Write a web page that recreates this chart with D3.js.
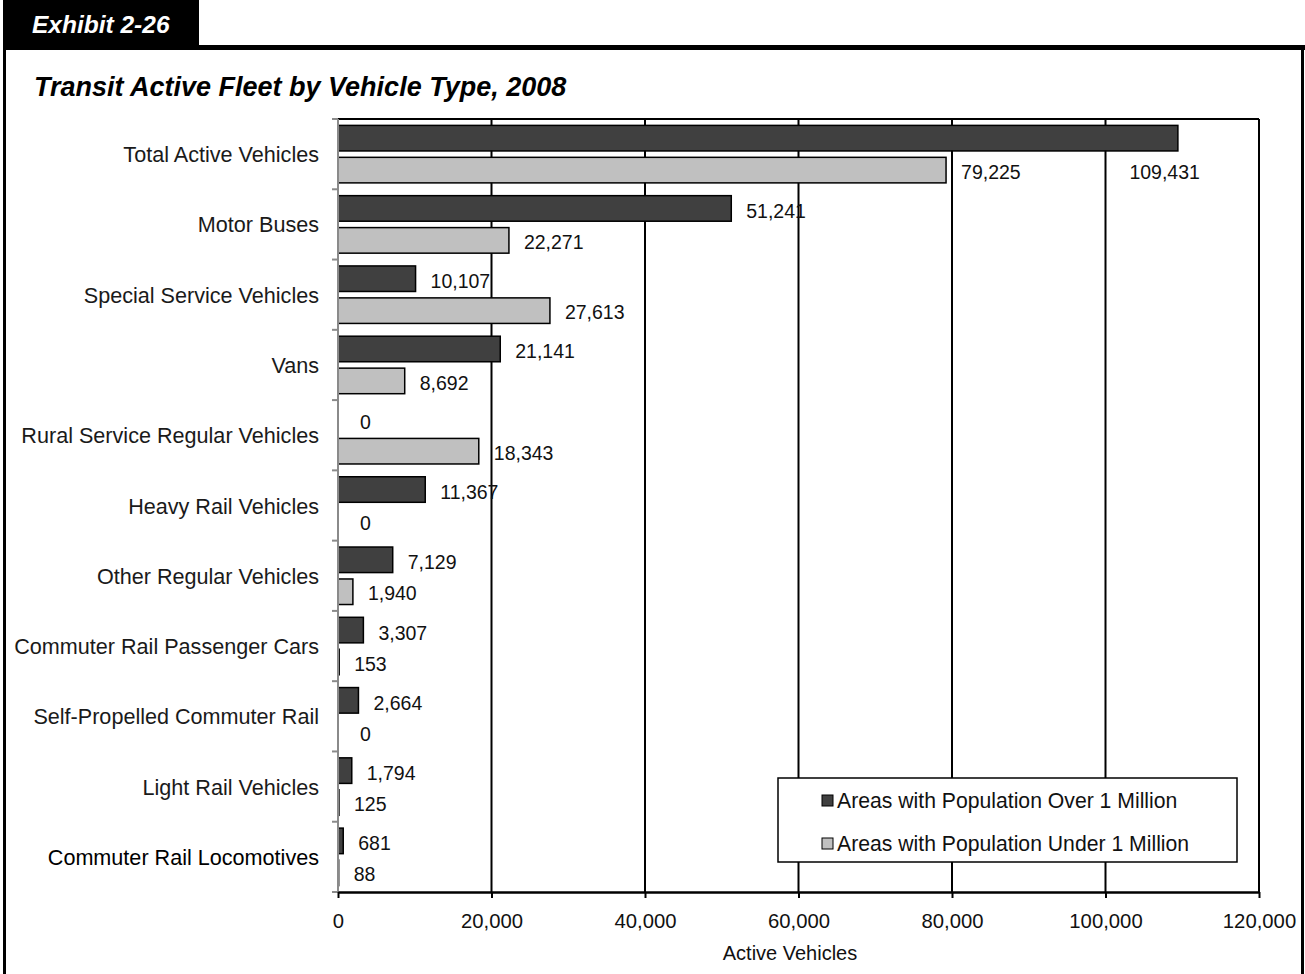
<!DOCTYPE html>
<html>
<head>
<meta charset="utf-8">
<script src="https://cdn.jsdelivr.net/npm/d3@7"></script>
<style>
  html, body { margin: 0; padding: 0; background: #fff; }
  svg { display: block; font-family: "Liberation Sans", Arial, sans-serif; }
</style>
</head>
<body>
<svg id="chart" width="1305" height="974"></svg>
<script>
// Transit active fleet, 2008 — vehicles by type and urbanized-area size
const categories = [
  "Total Active Vehicles",
  "Motor Buses",
  "Special Service Vehicles",
  "Vans",
  "Rural Service Regular Vehicles",
  "Heavy Rail Vehicles",
  "Other Regular Vehicles",
  "Commuter Rail Passenger Cars",
  "Self-Propelled Commuter Rail",
  "Light Rail Vehicles",
  "Commuter Rail Locomotives"
];
const overOneMillion  = [109431, 51241, 10107, 21141, 0, 11367, 7129, 3307, 2664, 1794, 681];
const underOneMillion = [79225, 22271, 27613, 8692, 18343, 0, 1940, 153, 0, 125, 88];
const seriesNames = ["Areas with Population Over 1 Million", "Areas with Population Under 1 Million"];
const xTicks = [0, 20000, 40000, 60000, 80000, 100000, 120000];

const svg = d3.select("#chart");
const W = 1305, H = 974;
const plot = { left: 338, right: 1259, top: 119, bottom: 892 };
const DARK = "#404040", LIGHT = "#c0c0c0";
const fmt = d3.format(",");

// ---- page frame and header tab ----
svg.append("rect").attr("x", 3).attr("y", 0).attr("width", 196).attr("height", 50).attr("fill", "#000");
svg.append("rect").attr("x", 3).attr("y", 45).attr("width", W - 3).attr("height", 5).attr("fill", "#000");
svg.append("rect").attr("x", 3).attr("y", 45).attr("width", 3).attr("height", H - 45).attr("fill", "#000");
svg.append("rect").attr("x", 1301).attr("y", 45).attr("width", 3).attr("height", H - 45).attr("fill", "#000");

svg.append("text").attr("x", 32).attr("y", 33)
  .attr("fill", "#fff").attr("font-size", 24.5).attr("font-weight", "bold").attr("font-style", "italic")
  .text("Exhibit 2-26");
svg.append("text").attr("x", 34).attr("y", 96)
  .attr("fill", "#000").attr("font-size", 27).attr("font-weight", "bold").attr("font-style", "italic")
  .text("Transit Active Fleet by Vehicle Type, 2008");

// ---- scales ----
const x = d3.scaleLinear().domain([0, 120000]).range([plot.left, plot.right]);
const y = d3.scaleBand().domain(categories).range([plot.top, plot.bottom]);
const ySub = d3.scaleBand().domain([0, 1]).range([0, y.bandwidth()]).paddingInner(0.2).paddingOuter(0.2);

// ---- gridlines and frame ----
const g = svg.append("g");
g.selectAll("line.grid").data(xTicks.slice(1)).join("line")
  .attr("x1", d => x(d)).attr("x2", d => x(d))
  .attr("y1", plot.top).attr("y2", plot.bottom)
  .attr("stroke", "#000").attr("stroke-width", 2);
g.append("line").attr("x1", plot.left).attr("x2", plot.right)
  .attr("y1", plot.top).attr("y2", plot.top).attr("stroke", "#000").attr("stroke-width", 2);

// ---- bars ----
const rows = categories.map((c, i) => ({ cat: c, vals: [overOneMillion[i], underOneMillion[i]] }));
const rowG = g.selectAll("g.row").data(rows).join("g").attr("class", "row")
  .attr("transform", d => `translate(0,${y(d.cat)})`);
rowG.selectAll("rect").data(d => d.vals.map((v, k) => ({ v, k }))).join("rect")
  .filter(d => d.v > 0)
  .attr("x", x(0)).attr("y", d => ySub(d.k))
  .attr("width", d => x(d.v) - x(0)).attr("height", ySub.bandwidth())
  .attr("fill", d => d.k === 0 ? DARK : LIGHT)
  .attr("stroke", "#000").attr("stroke-width", 1.5);

// ---- value labels ----
rowG.each(function (d) {
  const row = d3.select(this);
  d.vals.forEach((v, k) => {
    const yc = ySub(k) + ySub.bandwidth() / 2;
    const t = row.append("text").attr("font-size", 19.5).attr("fill", "#111").text(fmt(v));
    const w = t.node().getComputedTextLength();
    let tx = x(v) + (v === 0 ? 22 : 15), ty = yc + (k === 0 ? 9.5 : 8.6);
    if (tx + w > plot.right) {
      // no room to the right: drop the label under the bar end
      tx = x(v) + 22 - w;
      ty = ySub(1) + ySub.bandwidth() / 2 + 8.6;
    }
    t.attr("x", tx).attr("y", ty);
  });
});

// ---- category axis ----
const yAxisG = svg.append("g");
yAxisG.append("line").attr("x1", plot.left).attr("x2", plot.left)
  .attr("y1", plot.top).attr("y2", plot.bottom).attr("stroke", "#8a8a8a").attr("stroke-width", 2);
const bounds = categories.map(c => y(c)).concat([plot.bottom]);
yAxisG.selectAll("line.tk").data(bounds).join("line")
  .attr("x1", plot.left - 6).attr("x2", plot.left)
  .attr("y1", d => d).attr("y2", d => d).attr("stroke", "#8a8a8a").attr("stroke-width", 2);
yAxisG.selectAll("text").data(categories).join("text")
  .attr("x", 319).attr("y", d => y(d) + y.bandwidth() / 2 + 8)
  .attr("text-anchor", "end").attr("font-size", 21.6)
  .attr("fill", (d, i) => i === categories.length - 1 ? "#000" : "#1a1a1a")
  .text(d => d);

// ---- value axis ----
const xAxis = d3.axisBottom(x).tickValues(xTicks).tickFormat(fmt).tickSize(6).tickSizeOuter(0);
const xAxisG = svg.append("g").attr("transform", `translate(0,${plot.bottom})`).call(xAxis);
xAxisG.select(".domain").attr("stroke", "#000").attr("stroke-width", 2.5);
xAxisG.selectAll(".tick line").attr("stroke", "#000").attr("stroke-width", 2);
xAxisG.selectAll(".tick text").attr("font-size", 20.3).attr("fill", "#111")
  .attr("font-family", "'Liberation Sans', Arial, sans-serif").attr("dy", null).attr("y", 36);
svg.append("text").attr("x", 790).attr("y", 960)
  .attr("text-anchor", "middle").attr("font-size", 20).attr("fill", "#111").text("Active Vehicles");

// ---- legend ----
const lg = svg.append("g").attr("transform", "translate(778,778)");
lg.append("rect").attr("width", 459).attr("height", 84).attr("fill", "#fff")
  .attr("stroke", "#000").attr("stroke-width", 1.5);
seriesNames.forEach((name, k) => {
  const ly = 22 + k * 43;
  lg.append("rect").attr("x", 44).attr("y", ly - 5).attr("width", 11).attr("height", 11)
    .attr("fill", k === 0 ? DARK : LIGHT).attr("stroke", "#000").attr("stroke-width", 1);
  lg.append("text").attr("x", 59).attr("y", ly + 7.5).attr("font-size", 21.2).attr("fill", "#111").text(name);
});
</script>
</body>
</html>
